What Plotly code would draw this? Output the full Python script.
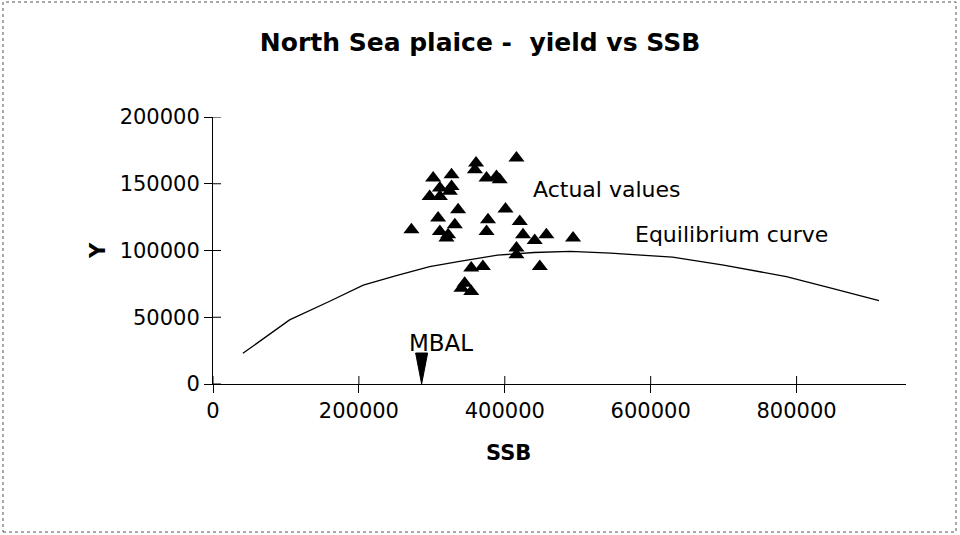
import plotly.graph_objects as go

# ---- data ----
ssb_actual = [416000, 360600, 359000, 375000, 388600, 393000, 301800, 327000, 311000, 327000,
              297000, 311000, 324600, 336000, 308600, 331500, 311000, 322300, 320000, 272000,
              377000, 375000, 401000, 420500, 425000, 441000, 457000, 493600, 416000, 416000,
              448000, 370000, 354000, 345000, 340600, 354000]
y_actual = [169300, 165500, 160500, 154300, 155500, 153000, 154300, 156800, 146800, 148000,
            140500, 140500, 144300, 130500, 124300, 119300, 114200, 111800, 109300, 115500,
            123000, 114200, 131000, 121700, 111800, 107500, 111800, 109300, 101800, 96800,
            88000, 88000, 86800, 75500, 71800, 69300]

ssb_curve = [41000, 105000, 160000, 206000, 250000, 297000, 340000, 390000, 440000, 490000,
             545000, 630000, 700000, 786000, 850000, 913000]
y_curve = [23000, 48000, 62000, 74000, 81000, 88000, 92000, 96500, 98500, 99300,
           98000, 95000, 89000, 80500, 71500, 62500]

mbal = 286000
x_ticks = [0, 200000, 400000, 600000, 800000]
y_ticks = [0, 50000, 100000, 150000, 200000]

FONT = "DejaVu Sans"
FS = 21

# plot-area geometry (pixels)
L, R, T, B = 213, 54, 117, 151
W, H = 960 - L - R, 535 - T - B
XMAX, YMAX = 950000, 200000


def px(xp):
    return (xp - L) / W


def py(yp):
    return (535 - B - yp) / H


fig = go.Figure()
fig.add_trace(go.Scatter(x=ssb_curve, y=y_curve, mode="lines",
                         line=dict(color="black", width=1.3), showlegend=False, hoverinfo="skip"))
fig.add_trace(go.Scatter(x=ssb_actual, y=y_actual, mode="markers",
                         marker=dict(symbol="triangle-up", size=14, color="black"),
                         showlegend=False))

# MBAL arrow (triangle pointing down to the axis at MBAL)
half_w = 6 / W * XMAX
h = 31 / H * YMAX
fig.add_shape(type="path", xref="x", yref="y",
              path=f"M {mbal-half_w},{h} L {mbal+half_w},{h} L {mbal},0 Z",
              fillcolor="black", line=dict(color="black", width=1))

# inner halves of the crossing tick marks
for v in x_ticks:
    fig.add_shape(type="line", xref="x", yref="paper",
                  x0=v, x1=v, y0=0, y1=8 / H, line=dict(color="black", width=1))
for v in y_ticks:
    fig.add_shape(type="line", xref="paper", yref="y",
                  x0=0, x1=8 / W, y0=v, y1=v, line=dict(color="black", width=1))

fig.add_annotation(x=mbal, y=h, xref="x", yref="y", text="MBAL", showarrow=False,
                   yanchor="bottom", xanchor="center", xshift=19, yshift=-5,
                   font=dict(family=FONT, size=23, color="black"))
fig.add_annotation(x=px(531), y=py(189), xref="paper", yref="paper", text="Actual values",
                   showarrow=False, xanchor="left", yanchor="middle",
                   font=dict(family=FONT, size=22, color="black"))
fig.add_annotation(x=px(633), y=py(234), xref="paper", yref="paper", text="Equilibrium curve",
                   showarrow=False, xanchor="left", yanchor="middle",
                   font=dict(family=FONT, size=22, color="black"))
# axis titles
fig.add_annotation(x=px(508), y=py(453), xref="paper", yref="paper", text="<b>SSB</b>",
                   showarrow=False, xanchor="center", yanchor="middle",
                   font=dict(family=FONT, size=FS, color="black"))
fig.add_annotation(x=px(98), y=py(251), xref="paper", yref="paper", text="<b>Y</b>",
                   showarrow=False, xanchor="center", yanchor="middle", textangle=-90,
                   font=dict(family=FONT, size=FS, color="black"))

# border
fig.add_shape(type="rect", xref="paper", yref="paper",
              x0=px(3), x1=px(956), y0=py(532), y1=py(2),
              line=dict(color="#555555", width=1, dash="dot"))

axis_common = dict(showgrid=False, zeroline=False, tickcolor="black", ticklen=8,
                   showline=True, linecolor="black", linewidth=1, ticks="outside",
                   tickfont=dict(family=FONT, size=FS, color="black"))
fig.update_layout(
    width=960, height=535,
    margin=dict(l=L, r=R, t=T, b=B),
    paper_bgcolor="white", plot_bgcolor="white",
    title=dict(text="<b>North Sea plaice -  yield vs SSB</b>", x=480 / 960, xanchor="center",
               y=1 - 42 / 535, yanchor="middle", yref="container",
               font=dict(family=FONT, size=25, color="black")),
    xaxis=dict(range=[0, XMAX], tickvals=x_ticks, ticktext=[str(v) for v in x_ticks], **axis_common),
    yaxis=dict(range=[0, YMAX], tickvals=y_ticks, ticktext=[str(v) for v in y_ticks], **axis_common),
)

fig.write_html("out.html", config={"displayModeBar": False},
               post_script="document.body.style.margin='0';document.body.style.overflow='hidden';")
